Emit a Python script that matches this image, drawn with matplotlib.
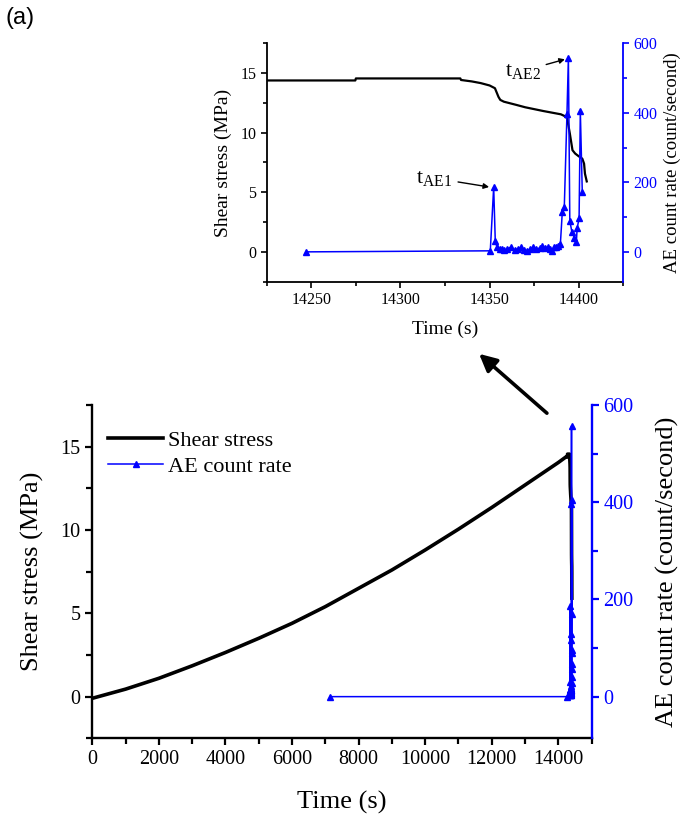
import numpy as np
import matplotlib
matplotlib.use("Agg")
import matplotlib.pyplot as plt
from matplotlib.ticker import MultipleLocator
from matplotlib.lines import Line2D

# shear stress over the whole test (s, MPa)
stress_t = [0, 1000, 2000, 3000, 4000, 5000, 6000, 7000, 8000, 9000, 10000,
            11000, 12000, 13000, 14000, 14225.5, 14268, 14274.7, 14275,
            14333.6, 14334, 14340, 14345, 14350, 14353, 14355, 14356, 14358,
            14365, 14370, 14380, 14390, 14392, 14393.5, 14395, 14396.5,
            14398, 14400, 14402, 14403, 14403.5, 14404.5]
stress = [-0.1, 0.45, 1.1, 1.85, 2.65, 3.5, 4.4, 5.4, 6.5, 7.6, 8.8,
          10.05, 11.35, 12.7, 14.05, 14.38, 14.38, 14.38, 14.55,
          14.55, 14.42, 14.3, 14.16, 13.96, 13.73, 13.0, 12.75, 12.6,
          12.33, 12.13, 11.82, 11.54, 11.4, 11.2, 9.94, 8.53,
          8.25, 8.02, 7.82, 7.4, 6.56, 5.91]

# AE count rate (s, count/second)
ae_t = [7140, 14247, 14350.4, 14352.3, 14353.2, 14354.2, 14355.7, 14357.2,
        14358.3, 14359.8, 14362.0, 14364.1, 14365.8, 14367.6, 14369.5,
        14371.0, 14372.9, 14374.4, 14376.2, 14378.1, 14379.6, 14381.1,
        14382.6, 14384.1, 14385.2, 14386.3, 14387.5, 14388.6, 14389.7,
        14390.8, 14391.9, 14393.4, 14394.2, 14395.0, 14396.2, 14397.6,
        14398.7, 14399.1, 14400.2, 14400.9, 14402.0]
ae = [0, 0, 3, 186, 30, 13, 9, 7,
      4, 8, 14, 5, 9, 13, 6,
      3, 7, 14, 8, 11, 16, 11,
      14, 8, 3, 14, 13, 17, 22,
      116, 128, 396, 557, 90, 56, 41,
      29, 68, 96, 404, 171]

BLUE = '#0000FF'
plt.rcParams['font.family'] = 'Liberation Serif'
plt.rcParams['mathtext.fontset'] = 'custom'
plt.rcParams['mathtext.rm'] = 'Liberation Serif'

fig = plt.figure(figsize=(6.86, 8.15), dpi=100)

# ---------- main plot ----------
ax = fig.add_axes([0.1345, 0.0941, 0.728, 0.409])
ax2 = ax.twinx()

ax.plot(stress_t, stress, color='black', lw=2.6, zorder=3)
ax2.plot(ae_t, ae, color=BLUE, lw=1.1, marker='^', ms=4.5)

ax.set_xlim(0, 15000)
ax.set_ylim(-2.5, 17.5)
ax2.set_ylim(-600 / 7, 600)
ax.xaxis.set_major_locator(MultipleLocator(2000))
ax.xaxis.set_minor_locator(MultipleLocator(1000))
ax.yaxis.set_major_locator(MultipleLocator(5))
ax.yaxis.set_minor_locator(MultipleLocator(2.5))
ax2.yaxis.set_major_locator(MultipleLocator(200))
ax2.yaxis.set_minor_locator(MultipleLocator(100))

for a in (ax, ax2):
    a.spines['top'].set_visible(False)
    for s in a.spines.values():
        s.set_linewidth(1.7)
ax.spines['right'].set_visible(False)
ax2.spines['left'].set_visible(False)
ax2.spines['bottom'].set_visible(False)
ax2.spines['right'].set_color(BLUE)

ax.tick_params(which='major', direction='out', length=5, width=1.6, labelsize=14.5)
ax.tick_params(which='minor', direction='out', length=4, width=1.6)
ax2.tick_params(which='major', direction='out', length=5, width=1.6,
                labelsize=14.5, colors=BLUE)
ax2.tick_params(which='minor', direction='out', length=4, width=1.6, colors=BLUE)

ax.set_xlabel('Time (s)', fontsize=19, labelpad=16)
ax.set_ylabel('Shear stress (MPa)', fontsize=19, labelpad=12)
ax2.set_ylabel('AE count rate (count/second)', fontsize=19, labelpad=16)

handles = [Line2D([], [], color='black', lw=2.6),
           Line2D([], [], color=BLUE, lw=1.1, marker='^', ms=4.5)]
ax2.legend(handles, ['Shear stress', 'AE count rate'], loc='upper left',
           bbox_to_anchor=(0.0, 0.97), frameon=False, fontsize=16,
           handlelength=2.5, handletextpad=0.2, labelspacing=0.25,
           borderaxespad=0.3)

# ---------- inset (zoom near failure) ----------
ix = fig.add_axes([0.3888, 0.6544, 0.5198, 0.2925])
ix2 = ix.twinx()

ix.plot(stress_t, stress, color='black', lw=1.6)
ix2.plot(ae_t[1:], ae[1:], color=BLUE, lw=1.1, marker='^', ms=4)

ix.set_xlim(14225, 14425)
ix.set_ylim(-2.5, 17.5)
ix2.set_ylim(-600 / 7, 600)
ix.xaxis.set_major_locator(MultipleLocator(50))
ix.xaxis.set_minor_locator(MultipleLocator(25))
ix.yaxis.set_major_locator(MultipleLocator(5))
ix.yaxis.set_minor_locator(MultipleLocator(2.5))
ix2.yaxis.set_major_locator(MultipleLocator(200))
ix2.yaxis.set_minor_locator(MultipleLocator(100))

for a in (ix, ix2):
    a.spines['top'].set_visible(False)
    for s in a.spines.values():
        s.set_linewidth(1.3)
ix.spines['right'].set_visible(False)
ix2.spines['left'].set_visible(False)
ix2.spines['bottom'].set_visible(False)
ix2.spines['right'].set_color(BLUE)

ix.tick_params(which='major', direction='out', length=4, width=1.2, labelsize=11.5)
ix.tick_params(which='minor', direction='out', length=3, width=1.2)
ix2.tick_params(which='major', direction='out', length=4, width=1.2,
                labelsize=11.5, colors=BLUE)
ix2.tick_params(which='minor', direction='out', length=3, width=1.2, colors=BLUE)

ix.set_xlabel('Time (s)', fontsize=14, labelpad=9)
ix.set_ylabel('Shear stress (MPa)', fontsize=14, labelpad=6)
ix2.set_ylabel('AE count rate (count/second)', fontsize=13.5, labelpad=4)

ix2.annotate(r'$\mathregular{t_{AE1}}$', xy=(14350.5, 186), xytext=(14309, 212),
             fontsize=16, ha='left', va='center',
             arrowprops=dict(arrowstyle='-|>', color='black', lw=1.0,
                             mutation_scale=8, shrinkA=2, shrinkB=1))
ix2.annotate(r'$\mathregular{t_{AE2}}$', xy=(14393, 555), xytext=(14358.5, 520),
             fontsize=16, ha='left', va='center',
             arrowprops=dict(arrowstyle='-|>', color='black', lw=1.0,
                             mutation_scale=8, shrinkA=2, shrinkB=1))

# big arrow from the main plot up to the inset
fig.patches.append(matplotlib.patches.FancyArrowPatch(
    (549 / 686, 1 - 415 / 815), (477 / 686, 1 - 352 / 815),
    transform=fig.transFigure, arrowstyle='-|>', mutation_scale=26,
    lw=2.6, color='black'))

fig.text(0.008, 0.992, '(a)', fontsize=17, family='Liberation Sans',
         ha='left', va='top')

fig.savefig('out.png', dpi=100)
